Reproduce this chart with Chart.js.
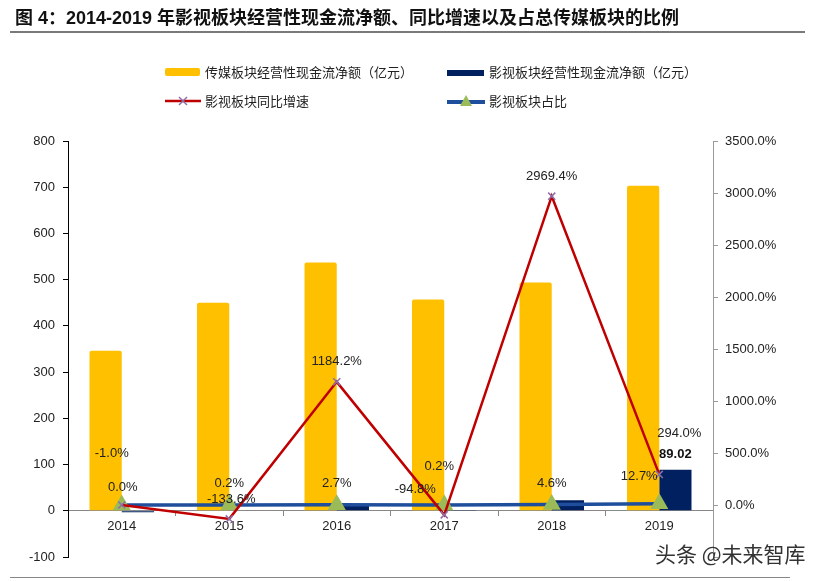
<!DOCTYPE html>
<html>
<head>
<meta charset="utf-8">
<script src="https://cdn.jsdelivr.net/npm/chart.js@4.4.1/dist/chart.umd.min.js"></script>
<style>
  body { margin: 0; background: #fff; }
  #page { position: relative; width: 822px; height: 581px; overflow: hidden; font-family: "Liberation Sans", "Noto Sans CJK SC", sans-serif; }
  #chart { position: absolute; left: 0; top: 0; }
  .title { position: absolute; left: 15px; top: 3px; font-size: 18px; font-weight: bold; color: #111; white-space: nowrap; }
  .rule { position: absolute; left: 10px; top: 31px; width: 795px; height: 2px; background: #7a7a7a; }
  .rule.bottom { top: 577px; width: 780px; height: 1px; background: #888; }
  .lg { position: absolute; font-family: "Noto Sans CJK SC", sans-serif; font-size: 13px; color: #222; line-height: 16px; white-space: nowrap; }
  .sw { position: absolute; }
  .wm { position: absolute; left: 655px; top: 538px; font-family: "Noto Sans CJK SC", sans-serif; font-size: 21px; color: #333; white-space: nowrap; }
</style>
</head>
<body>
<div id="page">
  <canvas id="chart" width="822" height="581"></canvas>
  <div class="title">图 4：2014-2019 年影视板块经营性现金流净额、同比增速以及占总传媒板块的比例</div>
  <div class="rule"></div>

  <div class="sw" style="left:165px;top:68px;width:35px;height:8px;background:#FFC000;border-radius:2px;"></div>
  <div class="lg" style="left:205px;top:64px;">传媒板块经营性现金流净额（亿元）</div>
  <div class="sw" style="left:447px;top:70px;width:37px;height:6px;background:#002060;"></div>
  <div class="lg" style="left:489px;top:64px;">影视板块经营性现金流净额（亿元）</div>

  <svg class="sw" style="left:165px;top:94px;" width="36" height="14">
    <line x1="0" y1="7" x2="36" y2="7" stroke="#C00000" stroke-width="2.5"/>
    <line x1="14" y1="3" x2="22" y2="11" stroke="#8C6FA8" stroke-width="1.5"/>
    <line x1="22" y1="3" x2="14" y2="11" stroke="#8C6FA8" stroke-width="1.5"/>
  </svg>
  <div class="lg" style="left:205px;top:93px;">影视板块同比增速</div>
  <svg class="sw" style="left:447px;top:94px;" width="38" height="14">
    <line x1="0" y1="8" x2="38" y2="8" stroke="#1F4E9C" stroke-width="4"/>
    <polygon points="19,1 25,12 13,12" fill="#9BBB59"/>
  </svg>
  <div class="lg" style="left:489px;top:93px;">影视板块占比</div>

  <div class="wm">头条 @未来智库</div>
  <div class="rule bottom"></div>
</div>
<script>
// 数据
const years = ['2014', '2015', '2016', '2017', '2018', '2019'];
const mediaCash = [346, 450, 537, 457, 494, 703];        // 传媒板块经营性现金流净额（亿元）
const filmCash = [-3.3, 1.1, 14.2, 0.7, 22.6, 89.02];     // 影视板块经营性现金流净额（亿元）
const filmGrowth = [0.0, -133.6, 1184.2, -94.8, 2969.4, 294.0]; // 影视板块同比增速 %
const filmShare = [-1.0, 0.2, 2.7, 0.2, 4.6, 12.7];       // 影视板块占比 %

// 标签偏移（像素）
const growthOff = [[1, -18], [2, -19], [0, -20], [-29, -25], [0, -20], [20, -41]];
const shareOff = [[-10, -52], [0, -22], [0, -21], [-5, -39], [0, -21], [-20, -27]];

Chart.defaults.font.family = '"Liberation Sans", Arial, sans-serif';
Chart.defaults.font.size = 13;
Chart.defaults.color = '#222';

const valueLabels = {
  id: 'valueLabels',
  afterDatasetsDraw(chart) {
    const ctx = chart.ctx;
    ctx.save();
    ctx.font = '13px "Liberation Sans", Arial, sans-serif';
    ctx.fillStyle = '#222';
    ctx.textAlign = 'center';
    ctx.textBaseline = 'middle';
    const sets = [[2, filmGrowth, growthOff], [3, filmShare, shareOff]];
    sets.forEach(([idx, vals, off]) => {
      chart.getDatasetMeta(idx).data.forEach((pt, i) => {
        ctx.fillText(vals[i].toFixed(1) + '%', pt.x + off[i][0], pt.y + off[i][1]);
      });
    });
    // 2019 影视柱标签
    const last = chart.getDatasetMeta(1).data[5];
    ctx.font = 'bold 13px "Liberation Sans", Arial, sans-serif';
    ctx.fillStyle = '#111';
    ctx.fillText(filmCash[5].toFixed(2), last.x, last.y - 15);
    ctx.restore();
  }
};

new Chart(document.getElementById('chart'), {
  data: {
    labels: years,
    datasets: [
      { type: 'bar', data: mediaCash, backgroundColor: '#FFC000', borderRadius: 2, yAxisID: 'y', order: 2 },
      { type: 'bar', data: filmCash, backgroundColor: '#002060', yAxisID: 'y', order: 3 },
      { type: 'line', data: filmGrowth, borderColor: '#C00000', borderWidth: 2.5,
        pointStyle: 'crossRot', pointRadius: 5, pointBorderColor: '#8C6FA8', pointBorderWidth: 1.5,
        yAxisID: 'y1', order: 0 },
      { type: 'line', data: filmShare, borderColor: '#1F4E9C', borderWidth: 3.5,
        pointStyle: 'triangle', pointRadius: 7, pointBackgroundColor: '#9BBB59', pointBorderColor: '#9BBB59',
        yAxisID: 'y1', order: 1 }
    ]
  },
  options: {
    responsive: false,
    animation: false,
    categoryPercentage: 0.6,
    barPercentage: 1.0,
    layout: { padding: { left: 0, right: 0, top: 141, bottom: 24 } },
    plugins: { legend: { display: false }, tooltip: { enabled: false } },
    scales: {
      x: {
        position: { y: 0 },
        offset: true,
        grid: { drawOnChartArea: false, tickLength: 5, color: '#888', offset: true },
        border: { color: '#888' },
        ticks: { padding: 3 }
      },
      y: {
        position: 'left',
        min: -100, max: 800,
        ticks: { stepSize: 100, padding: 8 },
        grid: { drawOnChartArea: false, tickLength: 5, color: '#000' },
        border: { color: '#000' },
        afterFit(s) { s.width = 68; }
      },
      y1: {
        position: 'right',
        min: -500, max: 3500,
        ticks: { stepSize: 500, padding: 7, callback: v => v < 0 ? '' : v.toFixed(1) + '%' },
        grid: { drawOnChartArea: false, tickLength: 5, color: '#999' },
        border: { color: '#999' },
        afterFit(s) { s.width = 109; }
      }
    }
  },
  plugins: [valueLabels]
});
</script>
</body>
</html>
